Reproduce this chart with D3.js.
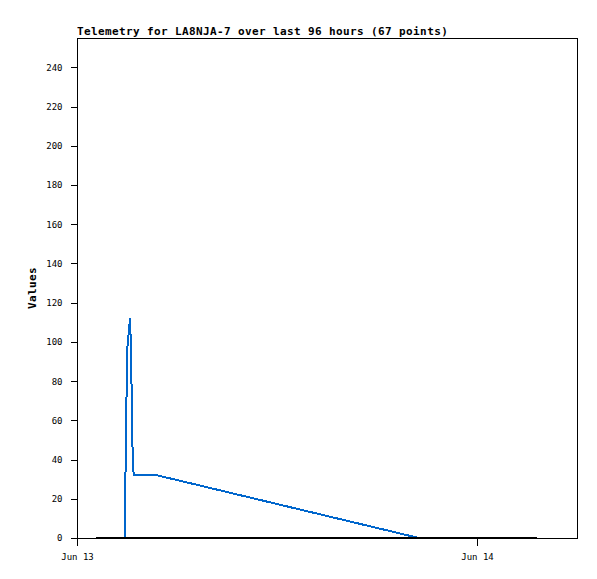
<!DOCTYPE html>
<html>
<head>
<meta charset="utf-8">
<script src="https://cdn.jsdelivr.net/npm/d3@7"></script>
<style>
  html, body { margin: 0; padding: 0; background: #fff; }
  svg { display: block; }
  text { font-family: "DejaVu Sans Mono", "Liberation Mono", monospace; fill: #000; }
</style>
</head>
<body>
<script>
// ---- data ----
const title = "Telemetry for LA8NJA-7 over last 96 hours (67 points)";
const yLabel = "Values";
const xDomain = ["2024-06-13T00:00:00Z", "2024-06-14T06:00:00Z"];
const xTickDates = ["2024-06-13T00:00:00Z", "2024-06-14T00:00:00Z"];
const yDomain = [0, 255];
const yTickValues = [0, 20, 40, 60, 80, 100, 120, 140, 160, 180, 200, 220, 240];

const blueTimes = [
  "2024-06-13T02:51:00Z", "2024-06-13T02:53:00Z", "2024-06-13T02:56:00Z",
  "2024-06-13T02:59:00Z", "2024-06-13T03:02:00Z", "2024-06-13T03:06:00Z",
  "2024-06-13T03:09:00Z", "2024-06-13T03:11:00Z", "2024-06-13T03:14:00Z",
  "2024-06-13T03:17:00Z", "2024-06-13T03:20:00Z", "2024-06-13T03:24:00Z",
  "2024-06-13T04:48:00Z", "2024-06-13T20:31:00Z"
];
const blueValues = [0, 16, 48, 80, 99, 104, 109, 112, 98, 72, 45, 32, 32, 0];

const blackTimes = ["2024-06-13T01:08:00Z", "2024-06-14T03:36:00Z"];
const blackValues = [0, 0];

// ---- chart ----
const W = 597, H = 579;
const m = { left: 77, right: 20, top: 38, bottom: 41 };

const svg = d3.select("body").append("svg")
  .attr("width", W).attr("height", H);

const x = d3.scaleUtc()
  .domain(xDomain.map(d => new Date(d)))
  .range([m.left, W - m.right]);
const y = d3.scaleLinear()
  .domain(yDomain)
  .range([H - m.bottom, m.top]);

// frame
svg.append("rect")
  .attr("x", m.left + 0.5).attr("y", m.top + 0.5)
  .attr("width", W - m.right - m.left).attr("height", H - m.bottom - m.top)
  .attr("fill", "none").attr("stroke", "#000").attr("stroke-width", 1)
  .attr("shape-rendering", "crispEdges");

// y axis
const yAxis = svg.append("g")
  .attr("transform", `translate(${m.left + 0.5},0)`)
  .call(d3.axisLeft(y).tickValues(yTickValues).tickSize(7).tickPadding(8).tickFormat(d3.format("d")));
yAxis.select(".domain").remove();
yAxis.selectAll("line").attr("stroke", "#000").attr("shape-rendering", "crispEdges");
yAxis.selectAll("text").style("font-size", "9px").attr("fill", "#000");

// x axis
const xAxis = svg.append("g")
  .attr("transform", `translate(0,${H - m.bottom + 0.5})`)
  .call(d3.axisBottom(x).tickValues(xTickDates.map(d => new Date(d)))
    .tickSize(7).tickPadding(8).tickFormat(d3.utcFormat("%b %d")));
xAxis.select(".domain").remove();
xAxis.selectAll("line").attr("stroke", "#000").attr("shape-rendering", "crispEdges");
xAxis.selectAll("text").style("font-size", "9px").attr("fill", "#000");

// series
const line = d3.line().x(d => x(d[0])).y(d => y(d[1]));
const blue = blueTimes.map((t, i) => [new Date(t), blueValues[i]]);
const black = blackTimes.map((t, i) => [new Date(t), blackValues[i]]);

svg.append("path")
  .attr("d", line(blue))
  .attr("fill", "none").attr("stroke", "#0066cc").attr("stroke-width", 2)
  .attr("shape-rendering", "crispEdges");

svg.append("path")
  .attr("d", line(black))
  .attr("fill", "none").attr("stroke", "#000").attr("stroke-width", 2)
  .attr("shape-rendering", "crispEdges");

// title
svg.append("text")
  .attr("x", m.left).attr("y", 35)
  .style("font-size", "11px").style("font-weight", "bold")
  .style("letter-spacing", "0.38px")
  .text(title);

// y label
svg.append("text")
  .attr("transform", `translate(36,${(m.top + H - m.bottom) / 2}) rotate(-90)`)
  .attr("text-anchor", "middle")
  .style("font-size", "11px").style("font-weight", "bold")
  .style("letter-spacing", "0.38px")
  .text(yLabel);
</script>
</body>
</html>
